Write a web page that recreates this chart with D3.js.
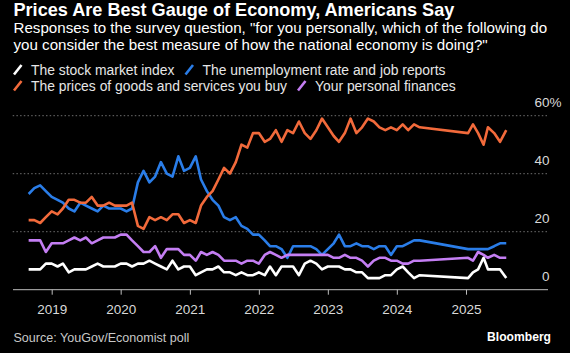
<!DOCTYPE html>
<html>
<head>
<meta charset="utf-8">
<script src="https://cdn.jsdelivr.net/npm/d3@7"></script>
<style>
    body { margin: 0; background: #000; }
    svg { display: block; }
</style>
</head>
<body>
<div id="chart"></div>
<script>

// survey months, Sep 2018 - May 2024 (monthly), then the 2025 polls
const surveyDates = [
    '2018-09-01','2018-10-01','2018-11-01','2018-12-01',
    '2019-01-01','2019-02-01','2019-03-01','2019-04-01','2019-05-01','2019-06-01','2019-07-01','2019-08-01','2019-09-01','2019-10-01','2019-11-01','2019-12-01',
    '2020-01-01','2020-02-01','2020-03-01','2020-04-01','2020-05-01','2020-06-01','2020-07-01','2020-08-01','2020-09-01','2020-10-01','2020-11-01','2020-12-01',
    '2021-01-01','2021-02-01','2021-03-01','2021-04-01','2021-05-01','2021-06-01','2021-07-01','2021-08-01','2021-09-01','2021-10-01','2021-11-01','2021-12-01',
    '2022-01-01','2022-02-01','2022-03-01','2022-04-01','2022-05-01','2022-06-01','2022-07-01','2022-08-01','2022-09-01','2022-10-01','2022-11-01','2022-12-01',
    '2023-01-01','2023-02-01','2023-03-01','2023-04-01','2023-05-01','2023-06-01','2023-07-01','2023-08-01','2023-09-01','2023-10-01','2023-11-01','2023-12-01',
    '2024-01-01','2024-02-01','2024-03-01','2024-04-01','2024-05-01',
    '2025-01-12','2025-02-07','2025-03-06','2025-04-04','2025-04-27','2025-05-30','2025-06-30','2025-08-02'
];

const stockMarket = [
    7, 7, 7, 9,
    9, 8, 9, 6, 7, 7, 7, 8, 9, 8, 8, 8,
    9, 9, 8, 9, 9, 10, 9, 8, 7, 10, 7, 8,
    8, 5, 6, 7, 7, 8, 6, 6, 5, 6, 5, 5,
    6, 5, 8, 5, 8, 8, 8, 5, 9, 10, 9, 7,
    8, 8, 8, 7, 7, 6, 6, 4, 4, 4, 5, 5,
    7, 8, 6, 4, 5,
    4, 6, 7, 11, 7, 7, 7, 4
];

const jobReports = [
    33, 35, 36, 34,
    32, 31, 30, 28, 27, 30, 29, 28, 27, 29, 28, 28,
    28, 27, 28, 37, 41, 37, 39, 44, 40, 39, 46, 41,
    42, 46, 38, 34, 31, 29, 25, 24, 25, 22, 21, 19,
    19, 17, 15, 15, 14, 11, 15, 15, 15, 15, 14, 12,
    14, 16, 19, 15, 15, 16, 15, 15, 14, 15, 15, 12,
    15, 15, 16, 17, 17,
    14, 14, 14, 14, 14, 15, 16, 16
];

const pricesYouBuy = [
    24, 24, 23, 25,
    27, 26, 28, 31, 31, 30, 30, 32, 29, 29, 30, 29,
    29, 29, 30, 22, 21, 25, 24, 25, 24, 26, 26, 23,
    24, 23, 29, 32, 34, 38, 42, 40, 44, 50, 49, 54,
    54, 51, 52, 55, 51, 55, 54, 58, 54, 52, 55, 59,
    56, 53, 51, 54, 59, 54, 56, 59, 58, 56, 55, 56,
    55, 57, 55, 57, 56,
    54, 57, 54, 50, 56, 54, 51, 55
];

const personalFinances = [
    17, 17, 17, 13,
    16, 16, 16, 17, 18, 17, 18, 16, 17, 18, 18, 18,
    19, 19, 17, 15, 13, 13, 15, 11, 14, 14, 14, 12,
    12, 10, 13, 12, 13, 12, 10, 10, 10, 9, 10, 10,
    9, 12, 13, 12, 11, 12, 12, 12, 12, 12, 12, 12,
    12, 11, 11, 12, 11, 11, 10, 8, 10, 11, 11, 10,
    10, 9, 9, 10, 10,
    11, 10, 13, 12, 11, 12, 11, 11
];

const seriesNames = [
    'The stock market index',
    'The unemployment rate and job reports',
    'The prices of goods and services you buy',
    'Your personal finances'
];
const seriesColors = ['#ffffff', '#2a7de8', '#f26a3b', '#c47ef3'];
const yTicks = [0, 20, 40, 60];
const yearTicks = ['2019','2020','2021','2022','2023','2024','2025'];

const width = 570;
const height = 353;
const font = '"Liberation Sans", Arial, sans-serif';

const parseDate = d3.timeParse('%Y-%m-%d');
const dates = surveyDates.map(parseDate);
const allSeries = [stockMarket, jobReports, pricesYouBuy, personalFinances];

const x = d3.scaleTime()
    .domain([new Date(2019, 0, 1), new Date(2025, 0, 1)])
    .range([51.7, 466]);

const y = d3.scaleLinear()
    .domain([0, 60])
    .range([289.7, 115.7]);

const svg = d3.select('#chart')
    .append('svg')
    .attr('width', width)
    .attr('height', height)
    .style('background', '#000')
    .attr('font-family', font);

// squeeze/stretch a text to the width it has in the picture
function fitWidth(sel, w) {
    const len = sel.node().getComputedTextLength();
    const fs = parseFloat(sel.attr('font-size'));
    sel.attr('font-size', (fs * w / len).toFixed(2));
    return fs * w / len;
}

// title block
const title = svg.append('text')
    .attr('x', 13.5).attr('y', 16)
    .attr('fill', '#fff')
    .attr('font-weight', 'bold')
    .attr('font-size', 16)
    .text('Prices Are Best Gauge of Economy, Americans Say');
fitWidth(title, 441);

const sub1 = svg.append('text')
    .attr('x', 13.5).attr('y', 33)
    .attr('fill', '#fff')
    .attr('font-size', 13)
    .text('Responses to the survey question, "for you personally, which of the following do');
const subSize = fitWidth(sub1, 534);

svg.append('text')
    .attr('x', 13.5).attr('y', 49.5)
    .attr('fill', '#fff')
    .attr('font-size', subSize)
    .text('you consider the best measure of how the national economy is doing?"');

// legend
const legendPos = [[14, 74.5], [185.5, 74.5], [14, 90.5], [298, 90.5]];
let legendSize = 13;
seriesNames.forEach(function (name, i) {
    const p = legendPos[i];
    svg.append('line')
        .attr('x1', p[0]).attr('y1', p[1])
        .attr('x2', p[0] + 7.5).attr('y2', p[1] - 9.5)
        .attr('stroke', seriesColors[i])
        .attr('stroke-width', 2.6);
    const t = svg.append('text')
        .attr('x', p[0] + 17).attr('y', p[1])
        .attr('fill', '#e6e6e6')
        .attr('font-size', legendSize)
        .text(name);
    if (i === 0) {
        legendSize = fitWidth(t, 143.5);
    }
});

// dotted gridlines
svg.selectAll('.grid')
    .data(yTicks.filter(d => d > 0))
    .enter()
    .append('line')
    .attr('class', 'grid')
    .attr('x1', 12.7).attr('x2', 549)
    .attr('y1', d => y(d)).attr('y2', d => y(d))
    .attr('stroke', '#6e6e6e')
    .attr('stroke-width', 1)
    .attr('stroke-dasharray', '1.5,2.2');

// y labels, right side, sitting above the lines
svg.selectAll('.ylab')
    .data(yTicks)
    .enter()
    .append('text')
    .attr('class', 'ylab')
    .attr('x', 549.5)
    .attr('y', d => y(d) - 8.5)
    .attr('text-anchor', 'end')
    .attr('fill', '#d9d9d9')
    .attr('font-size', 13.5)
    .text(d => d);

svg.append('text')
    .attr('x', 549.5)
    .attr('y', y(60) - 8.5)
    .attr('fill', '#d9d9d9')
    .attr('font-size', 13.5)
    .text('%');

// x axis
const xAxis = d3.axisBottom(x)
    .tickValues(yearTicks.map(d => new Date(+d, 0, 1)))
    .tickFormat(d3.timeFormat('%Y'))
    .tickSize(5)
    .tickPadding(10);

const gx = svg.append('g')
    .attr('transform', `translate(0,${y(0)})`)
    .call(xAxis);

gx.select('.domain').remove();
gx.selectAll('.tick line').attr('stroke', '#bdbdbd');
gx.selectAll('.tick text')
    .attr('fill', '#d9d9d9')
    .attr('font-size', 13.5)
    .attr('font-family', font);

svg.append('line')
    .attr('x1', 13).attr('x2', 548)
    .attr('y1', y(0)).attr('y2', y(0))
    .attr('stroke', '#bdbdbd')
    .attr('stroke-width', 1);

// the four lines
const line = d3.line()
    .x((d, i) => x(dates[i]))
    .y(d => y(d));

svg.selectAll('.series')
    .data(allSeries)
    .enter()
    .append('path')
    .attr('class', 'series')
    .attr('fill', 'none')
    .attr('stroke', (d, i) => seriesColors[i])
    .attr('stroke-width', 2.6)
    .attr('stroke-linejoin', 'round')
    .attr('d', d => line(d));

// footer
const source = svg.append('text')
    .attr('x', 13.5).attr('y', 342)
    .attr('fill', '#c8c8c8')
    .attr('font-size', 12)
    .text('Source: YouGov/Economist poll');
fitWidth(source, 176);

const brand = svg.append('text')
    .attr('x', 551).attr('y', 341)
    .attr('text-anchor', 'end')
    .attr('fill', '#fff')
    .attr('font-weight', 'bold')
    .attr('font-size', 12)
    .text('Bloomberg');
fitWidth(brand, 64);

</script>
</body>
</html>
